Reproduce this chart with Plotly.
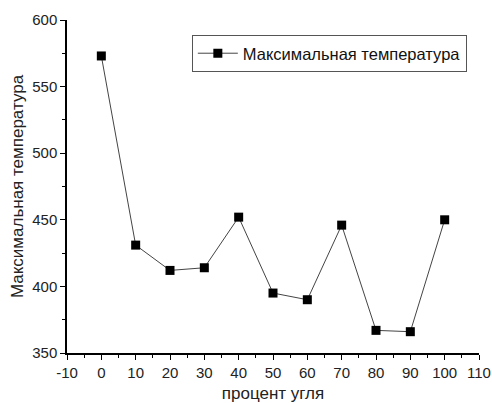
import plotly.graph_objects as go

coal_percent = [0, 10, 20, 30, 40, 50, 60, 70, 80, 90, 100]
max_temperature = [573, 431, 412, 414, 452, 395, 390, 446, 367, 366, 450]
x_tick_values = [-10, 0, 10, 20, 30, 40, 50, 60, 70, 80, 90, 100, 110]
series_name = "Максимальная температура"
x_title = "процент угля"
y_title = "Максимальная температура"

FONT = "Liberation Sans, Arial"

fig = go.Figure()
fig.add_trace(go.Scatter(
    x=coal_percent, y=max_temperature, mode="lines+markers", name=series_name,
    line=dict(color="#444444", width=1),
    marker=dict(symbol="square", size=9, color="black"),
))

axis_common = dict(
    showline=True, linecolor="black", linewidth=1.5, ticks="outside",
    ticklen=5, tickwidth=1.2, tickcolor="black", showgrid=False, zeroline=False,
    tickfont=dict(family=FONT, size=15, color="#222"),
    mirror=False, automargin=False,
)
fig.update_xaxes(range=[-10, 110], tickmode="array", tickvals=x_tick_values,
                 ticktext=[str(v) for v in x_tick_values],
                 minor=dict(ticks="outside", ticklen=3, tickwidth=1, tickcolor="black", dtick=5, tick0=-10),
                 title=dict(text=x_title, font=dict(family=FONT, size=17, color="#222"), standoff=9),
                 **axis_common)
fig.update_yaxes(range=[350, 600], dtick=50,
                 minor=dict(ticks="outside", ticklen=3, tickwidth=1, tickcolor="black", dtick=25),
                 title=dict(text=y_title, font=dict(family=FONT, size=17, color="#222"), standoff=4),
                 **axis_common)

fig.update_layout(
    width=492, height=403,
    margin=dict(l=67, r=13, t=20, b=50),
    paper_bgcolor="white", plot_bgcolor="white",
    showlegend=True,
    legend=dict(x=0.303, y=0.955, xanchor="left", yanchor="top",
                bordercolor="#555", borderwidth=1, bgcolor="white",
                font=dict(family=FONT, size=16.5, color="#111"),
                itemwidth=40, tracegroupgap=0),
)
fig.write_html("out.html", config={"displayModeBar": False},
               post_script="document.body.style.margin='0';document.body.style.overflow='hidden';")
